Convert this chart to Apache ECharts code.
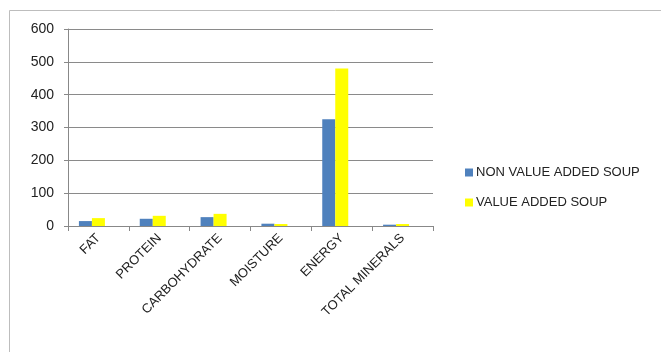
<!DOCTYPE html>
<html><head><meta charset="utf-8">
<script src="https://cdn.jsdelivr.net/npm/echarts@6/dist/echarts.min.js"></script>
<style>html,body{margin:0;padding:0;background:#fff}#c{width:661px;height:352px}</style>
</head><body><div id="c"></div>
<script>
const categories = ['FAT','PROTEIN','CARBOHYDRATE','MOISTURE','ENERGY','TOTAL MINERALS'];
const nonValueAdded = [15, 22, 27, 7, 325, 4];
const valueAdded = [24, 31, 37, 6, 480, 6];
const emptySlot = [null, null, null, null, null, null];
const yTicks = [0, 100, 200, 300, 400, 500, 600];

const chart = echarts.init(document.getElementById('c'));
const font = 'Liberation Sans, Arial, sans-serif';
chart.setOption({
  animation: false,
  backgroundColor: '#fff',
  graphic: [{type:'rect', shape:{x:9.5,y:10.5,width:700,height:400}, style:{fill:'none', stroke:'#bdbdbd', lineWidth:1}, silent:true}],
  grid: {left: 68, top: 29, width: 365, height: 197, containLabel: false},
  legend: {
    orient: 'vertical', left: 460, top: 161, itemWidth: 8, itemHeight: 8, itemGap: 17,
    icon: 'rect',
    textStyle: {fontFamily: font, fontSize: 13, color: '#222', padding:[0,0,0,-2]},
    data: ['NON VALUE ADDED SOUP', 'VALUE ADDED SOUP']
  },
  xAxis: {
    type: 'category', data: categories,
    axisLine: {lineStyle: {color: '#888'}},
    axisTick: {show: true, alignWithLabel: false, length: 5, lineStyle:{color:'#888'}},
    axisLabel: {rotate: 45, interval: 0, fontFamily: font, fontSize: 13, color: '#222', margin: 10}
  },
  yAxis: {
    type: 'value', min: 0, max: 600, interval: 100,
    axisLine: {show: true, lineStyle: {color: '#888'}},
    axisTick: {show: true, length: 4, lineStyle:{color:'#888'}},
    splitLine: {lineStyle: {color: '#8a8a8a'}},
    axisLabel: {fontFamily: font, fontSize: 14, color: '#222', margin: 14,
      formatter: v => yTicks.includes(v) ? String(v) : ''}
  },
  series: [
    {name: 'NON VALUE ADDED SOUP', type: 'bar', data: nonValueAdded, barWidth: 13, barGap: '0%', itemStyle: {color: '#4f81bd'}},
    {name: 'VALUE ADDED SOUP', type: 'bar', data: valueAdded, barWidth: 13, barGap: '0%', itemStyle: {color: '#ffff00'}},
    {name: ' ', type: 'bar', data: emptySlot, barWidth: 13, barGap: '0%', itemStyle: {color: 'transparent'}}
  ]
});
</script></body></html>
